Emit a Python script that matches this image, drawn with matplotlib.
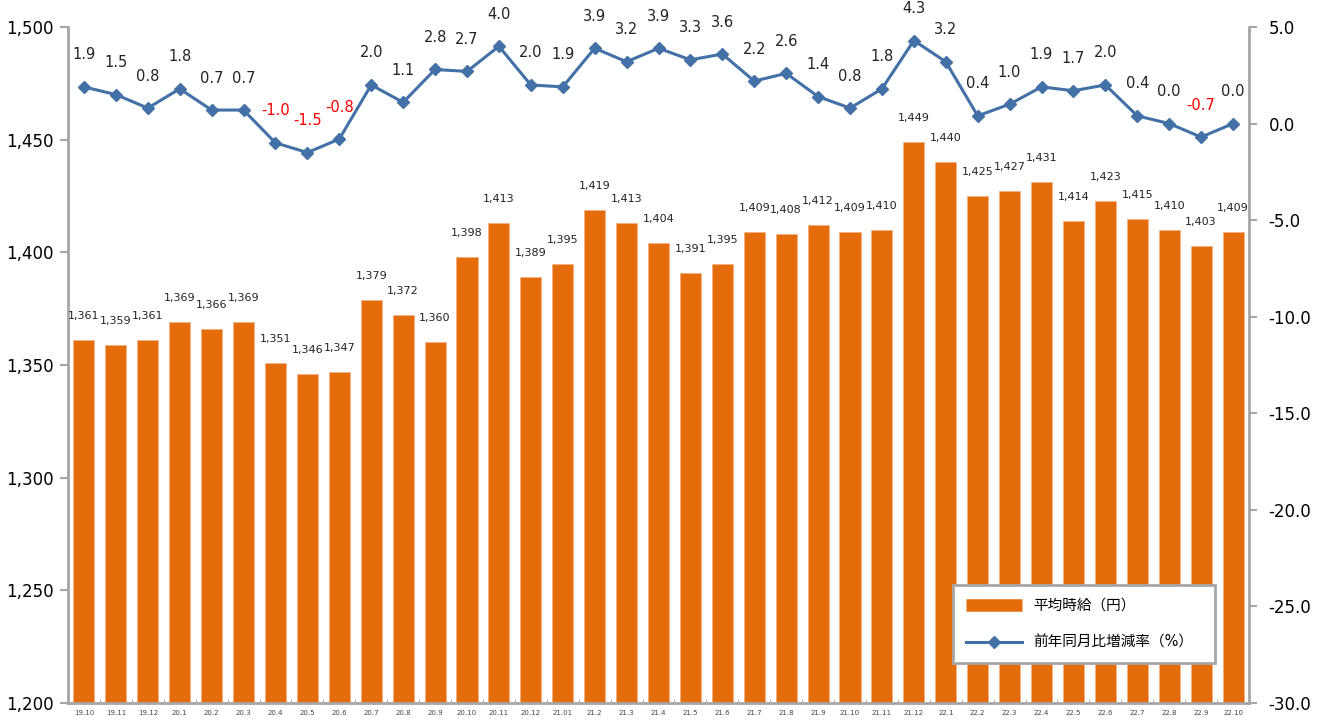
#!/usr/bin/env python3
# average hourly wage (bars) + year-on-year change (line), 19.10 - 22.10

import matplotlib
matplotlib.use("Agg")
import matplotlib.pyplot as plt
from matplotlib.lines import Line2D

plt.rcParams['font.family'] = ['DejaVu Sans', 'Noto Sans CJK JP']

months = ["19.10", "19.11", "19.12",
          "20.1", "20.2", "20.3", "20.4", "20.5", "20.6",
          "20.7", "20.8", "20.9", "20.10", "20.11", "20.12",
          "21.01", "21.2", "21.3", "21.4", "21.5", "21.6",
          "21.7", "21.8", "21.9", "21.10", "21.11", "21.12",
          "22.1", "22.2", "22.3", "22.4", "22.5", "22.6",
          "22.7", "22.8", "22.9", "22.10"]

wage = [1361, 1359, 1361,
        1369, 1366, 1369, 1351, 1346, 1347,
        1379, 1372, 1360, 1398, 1413, 1389,
        1395, 1419, 1413, 1404, 1391, 1395,
        1409, 1408, 1412, 1409, 1410, 1449,
        1440, 1425, 1427, 1431, 1414, 1423,
        1415, 1410, 1403, 1409]

yoy = [1.9, 1.5, 0.8,
       1.8, 0.7, 0.7, -1.0, -1.5, -0.8,
       2.0, 1.1, 2.8, 2.7, 4.0, 2.0,
       1.9, 3.9, 3.2, 3.9, 3.3, 3.6,
       2.2, 2.6, 1.4, 0.8, 1.8, 4.3,
       3.2, 0.4, 1.0, 1.9, 1.7, 2.0,
       0.4, 0.0, -0.7, 0.0]

orange = '#E46C0A'
blue = '#4470A8'
spine_gray = '#A6A6A6'

fig = plt.figure(figsize=(13.2, 7.2), dpi=100)
ax = fig.add_axes([68 / 1320, 1 - 703 / 720, 1181 / 1320, 676 / 720])
x = list(range(len(months)))

ax.bar(x, wage, width=0.66, color=orange, edgecolor='#F4B183', linewidth=0.6, zorder=2)
for xi, v in zip(x, wage):
    ax.annotate(f"{v:,}", (xi, v), xytext=(0, 24), textcoords='offset pixels',
                ha='center', va='center', fontsize=8, color='#222222')

ax.set_xlim(-0.5, len(months) - 0.5)
ax.set_ylim(1200, 1500)
ax.set_yticks(range(1200, 1501, 50))
ax.set_yticklabels([f"{t:,}" for t in range(1200, 1501, 50)], fontsize=12)
ax.set_xticks(x)
ax.set_xticklabels(months, fontsize=5, color='#444444')
ax.set_xticks([i + 0.5 for i in x[:-1]], minor=True)
ax.tick_params(axis='x', which='major', length=0, pad=5)
ax.tick_params(axis='x', which='minor', length=3, direction='in', color=spine_gray)
ax.tick_params(axis='y', length=6, width=1.5, color=spine_gray, pad=4)

for side in ['top', 'right']:
    ax.spines[side].set_visible(False)
for side in ['left', 'bottom']:
    ax.spines[side].set_color(spine_gray)
    ax.spines[side].set_linewidth(2)

ax2 = ax.twinx()
ax2.plot(x, yoy, color=blue, lw=2.2, marker='D', markersize=6, zorder=3)
for xi, v in zip(x, yoy):
    ax2.annotate(f"{v:.1f}", (xi, v), xytext=(0, 32), textcoords='offset pixels',
                 ha='center', va='center', fontsize=10.5,
                 color='#FF0000' if v < 0 else '#222222')
ax2.set_ylim(-30, 5)
ax2.set_yticks(range(-30, 6, 5))
ax2.set_yticklabels([f"{t:.1f}" for t in range(-30, 6, 5)], fontsize=12)
ax2.tick_params(axis='y', length=6, width=1.5, color=spine_gray, pad=8)
for side in ['top', 'left', 'bottom']:
    ax2.spines[side].set_visible(False)
ax2.spines['right'].set_color(spine_gray)
ax2.spines['right'].set_linewidth(2)

handles = [Line2D([], [], color=orange, lw=9, solid_capstyle='butt'),
           Line2D([], [], color=blue, lw=2.2, marker='D', markersize=6)]
leg = fig.legend(handles, ["平均時給（円）", "前年同月比増減率（%）"],
                 loc='lower left', bbox_to_anchor=(953 / 1320, 1 - 663 / 720, 262 / 1320, 80 / 720),
                 mode='expand', borderaxespad=0, fontsize=10.5, handlelength=3.8,
                 labelspacing=1.5, borderpad=0.9, fancybox=False, framealpha=1,
                 edgecolor=spine_gray)
leg.get_frame().set_linewidth(2)

plt.savefig("out.png", dpi=100)
plt.close()
